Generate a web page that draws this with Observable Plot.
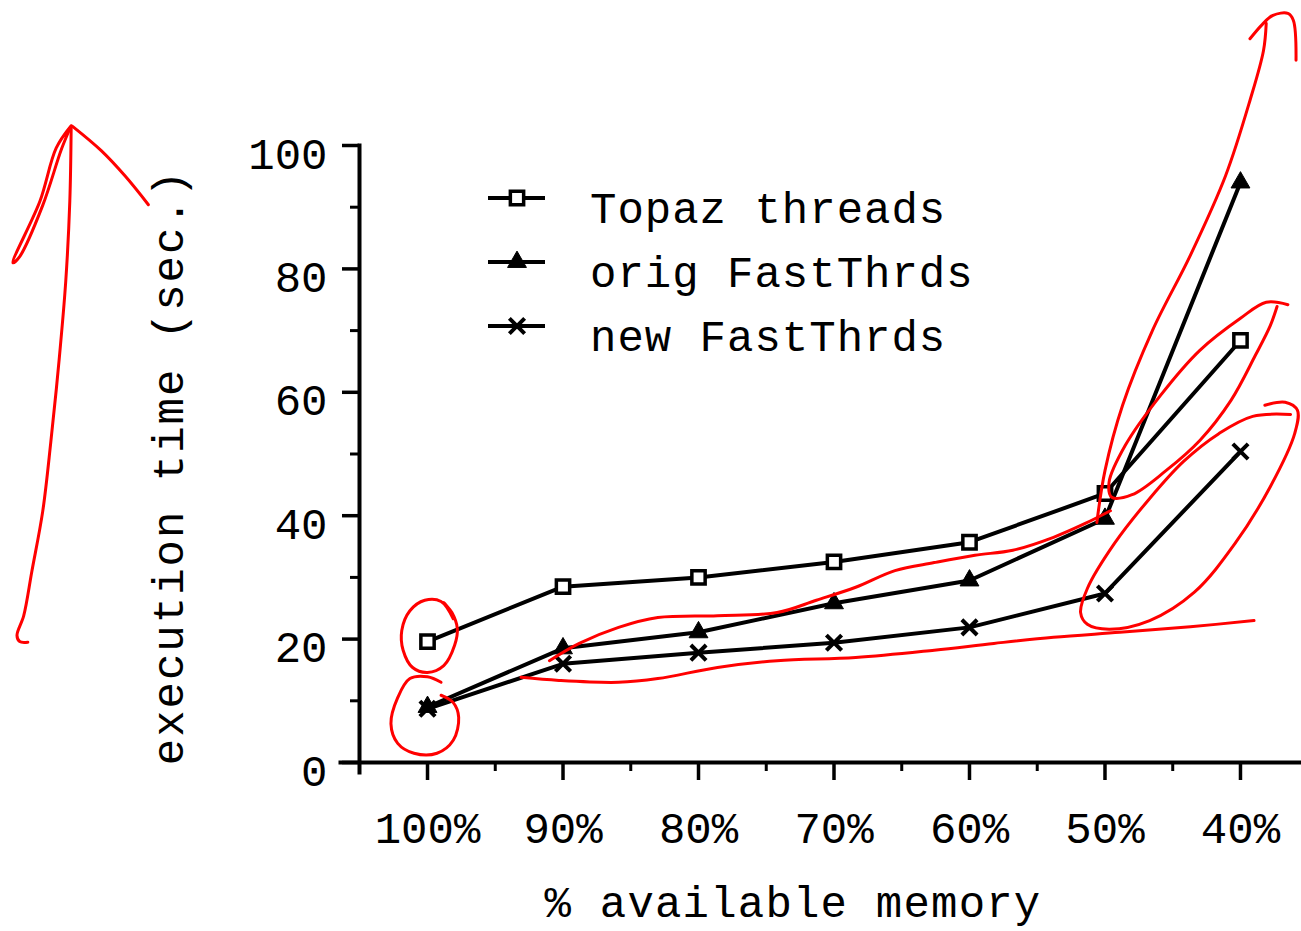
<!DOCTYPE html>
<html><head><meta charset="utf-8">
<script src="https://cdn.jsdelivr.net/npm/d3@7"></script>
<script src="https://cdn.jsdelivr.net/npm/@observablehq/plot@0.6"></script>
<style>
html,body{margin:0;padding:0;background:#fff;}
#chart{width:1301px;height:931px;overflow:hidden;}
svg{display:block;}
</style></head><body><div id="chart"></div>
<script>
// ---- data ----
const memoryLevels = [100, 90, 80, 70, 60, 50, 40];
const seriesNames = ["Topaz threads", "orig FastThrds", "new FastThrds"];
const topazThreads = [19.6, 28.5, 30.0, 32.5, 35.7, 43.6, 68.4];
const origFastThrds = [9.0, 18.5, 21.1, 25.8, 29.5, 39.5, 94.0];
const newFastThrds = [8.7, 16.0, 17.8, 19.4, 21.9, 27.4, 50.4];
const yTicks = [0, 20, 40, 60, 80, 100];
const yMinorTicks = [10, 30, 50, 70, 90];
const xTicks = [100, 90, 80, 70, 60, 50, 40];
const xMinorTicks = [95, 85, 75, 65, 55, 45];
const xTickLabels = ["100%", "90%", "80%", "70%", "60%", "50%", "40%"];
const xLabel = "% available memory";
const yLabel = "execution time (sec.)";

// hand-drawn red annotation strokes, in data units [memory %, seconds]
const annotLeftShaft = [[126.3,102.9],[126.4,91.0],[126.7,78.0],[127.2,65.0],[127.8,52.0],[128.4,40.7],[129.2,31.0],[129.8,23.8],[130.3,20.6],[130.1,19.6],[129.5,19.5]];
const annotLeftWingL = [[126.3,103.2],[127.4,99.6],[128.6,91.0],[130.6,81.0],[130.1,82.0],[128.4,90.3],[127.0,99.5],[126.3,103.2]];
const annotLeftWingR = [[126.2,103.1],[124.1,99.2],[122.3,95.0],[120.6,90.4]];
const annotRightShaft = [[50.6,38.9],[50.0,47.3],[48.7,57.9],[46.5,70.0],[43.7,82.2],[41.1,95.1],[39.3,107.3],[38.3,115.4],[38.1,119.8]];
const annotRightHead = [[39.3,117.3],[38.4,119.6],[37.6,121.1],[36.5,121.4],[36.1,120.3],[35.9,113.8]];
const annotTopazLoop = [[98.1,23.3],[99.0,26.1],[100.2,26.3],[101.3,24.6],[101.9,21.4],[101.8,18.2],[101.1,15.4],[100.0,14.6],[98.8,15.7],[98.0,19.0],[97.8,21.7],[98.2,24.3],[98.8,25.9]];
const annotBottomLoop = [[99.0,13.0],[100.0,13.9],[101.3,13.6],[102.2,10.5],[102.7,6.3],[102.2,3.1],[101.0,1.5],[99.3,1.5],[98.1,3.6],[97.7,7.3],[98.1,9.7],[99.0,10.9]];
const annotMidTop = [[91.0,16.5],[88.8,19.3],[85.9,21.9],[83.0,23.5],[78.6,23.8],[74.2,24.3],[71.3,26.3],[68.4,28.4],[65.5,31.1],[62.6,32.4],[59.6,33.6],[56.8,34.4],[53.8,36.5],[51.5,38.7],[49.6,40.8]];
const annotMidBottom = [[93.1,13.8],[90.3,13.3],[85.9,13.0],[83.0,13.6],[78.6,15.4],[74.2,16.5],[68.4,17.0],[62.6,18.2],[58.2,19.3],[53.8,20.3],[48.9,21.1],[43.7,22.0],[39.0,23.0]];
const annotUpperLoop = [[36.5,74.2],[38.1,74.6],[40.0,72.0],[43.0,66.8],[45.9,59.5],[48.5,51.4],[49.7,45.4],[49.5,43.0],[48.0,43.4],[45.5,47.3],[43.0,52.2],[40.7,58.7],[38.9,66.0],[37.8,70.8],[37.3,73.9]];
const annotLowerLoop = [[36.3,56.4],[39.1,56.1],[41.6,53.3],[44.2,48.8],[46.7,42.8],[49.3,35.5],[51.3,28.2],[51.8,24.3],[51.3,22.4],[49.7,21.6],[46.7,23.0],[43.4,27.6],[40.4,35.5],[37.8,44.7],[36.0,53.3],[35.8,57.1],[36.7,58.4],[38.2,57.9]];

// ---- tables built from the arrays ----
const seriesValues = [topazThreads, origFastThrds, newFastThrds];
const rows = seriesNames.flatMap((s, k) => memoryLevels.map((m, i) => ({series: s, memory: m, time: seriesValues[k][i]})));
const annotStrokes = [annotLeftShaft, annotLeftWingL, annotLeftWingR, annotRightShaft, annotRightHead,
  annotTopazLoop, annotBottomLoop, annotMidTop, annotMidBottom, annotUpperLoop, annotLowerLoop];
const annotRows = annotStrokes.flatMap((pts, k) => pts.map(([m, t]) => ({id: k, memory: m, time: t})));
const tickLabelOf = new Map(xTicks.map((v, i) => [v, xTickLabels[i]]));

const FONT = "'Liberation Mono', 'DejaVu Sans Mono', monospace";
const FS = 44;

const plot = Plot.plot({
  width: 1301,
  height: 931,
  marginLeft: 359, marginRight: 1, marginTop: 145, marginBottom: 169,
  style: {fontFamily: FONT, fontSize: FS + "px", background: "white", color: "black"},
  x: {type: "linear", domain: [105.02, 35.57]},
  y: {type: "linear", domain: [0, 100]},
  marks: [
    // axis lines
    Plot.frame({anchor: "left", strokeWidth: 4, insetBottom: -10}),
    Plot.frame({anchor: "bottom", strokeWidth: 4, insetLeft: -19}),
    // y ticks
    Plot.axisY(yTicks, {tickSize: 17, strokeWidth: 3.5, fill: "none", label: null}),
    Plot.axisY(yMinorTicks, {tickSize: 9, strokeWidth: 3, fill: "none", label: null}),
    Plot.axisY(yTicks, {tickSize: 0, tickPadding: 32, dy: 9, fontSize: FS, label: null}),
    // x ticks
    Plot.axisX(xTicks, {tickSize: 18, strokeWidth: 3.5, fill: "none", label: null}),
    Plot.axisX(xMinorTicks, {tickSize: 9, strokeWidth: 3, fill: "none", label: null}),
    Plot.axisX(xTicks, {tickSize: 0, tickPadding: 49, fontSize: FS, tickFormat: d => tickLabelOf.get(d), label: null}),
    // axis titles
    Plot.text([yLabel], {text: d => d, frameAnchor: "left", rotate: -90, dx: -191, dy: 13, fontSize: FS, textAnchor: "middle", lineAnchor: "middle"}),
    Plot.text([xLabel], {text: d => d, frameAnchor: "bottom", dx: -37, dy: 140, fontSize: FS, textAnchor: "middle", lineAnchor: "middle"}),
    // series
    Plot.line(rows, {x: "memory", y: "time", z: "series", stroke: "black", strokeWidth: 4}),
    Plot.dot(rows.filter(d => d.series === seriesNames[0]), {x: "memory", y: "time", symbol: "square", r: 7.5, fill: "white", stroke: "black", strokeWidth: 3.5}),
    Plot.dot(rows.filter(d => d.series === seriesNames[1]), {x: "memory", y: "time", symbol: "triangle", r: 7, fill: "black", stroke: "black", strokeWidth: 1}),
    Plot.dot(rows.filter(d => d.series === seriesNames[2]), {x: "memory", y: "time", symbol: "times", r: 7, stroke: "black", strokeWidth: 4}),
    // red annotations
    Plot.line(annotRows, {x: "memory", y: "time", z: "id", stroke: "#ff0000", strokeWidth: 3, curve: "catmull-rom"})
  ]
});

document.getElementById("chart").appendChild(plot);

// letter spacing for the axis titles
d3.select(plot).selectAll("text").each(function () {
  const t = this.textContent;
  if (t === yLabel) d3.select(this).attr("letter-spacing", 2);
  if (t === xLabel) d3.select(this).attr("letter-spacing", 1.2);
});

// legend inside the plot area (top-left)
const svg = d3.select(plot);
const legendSymbols = [
  {type: d3.symbolSquare, r: 7.5, fill: "white", stroke: "black", sw: 3.5},
  {type: d3.symbolTriangle, r: 7, fill: "black", stroke: "black", sw: 1},
  {type: d3.symbolTimes, r: 7, fill: "none", stroke: "black", sw: 4}
];
const lg = svg.append("g").attr("transform", "translate(488,198)");
seriesNames.forEach((name, i) => {
  const row = lg.append("g").attr("transform", `translate(0,${i * 64})`);
  row.append("line").attr("x1", 0).attr("x2", 57).attr("y1", 0).attr("y2", 0).attr("stroke", "black").attr("stroke-width", 4);
  const s = legendSymbols[i];
  row.append("path").attr("transform", "translate(29,0)")
    .attr("d", d3.symbol(s.type, Math.PI * s.r * s.r)())
    .attr("fill", s.fill).attr("stroke", s.stroke).attr("stroke-width", s.sw);
  row.append("text").attr("x", 102).attr("y", 25).attr("text-anchor", "start")
    .attr("font-family", FONT).attr("font-size", FS).attr("letter-spacing", 1)
    .attr("fill", "black").text(name);
});
</script>
</body></html>
